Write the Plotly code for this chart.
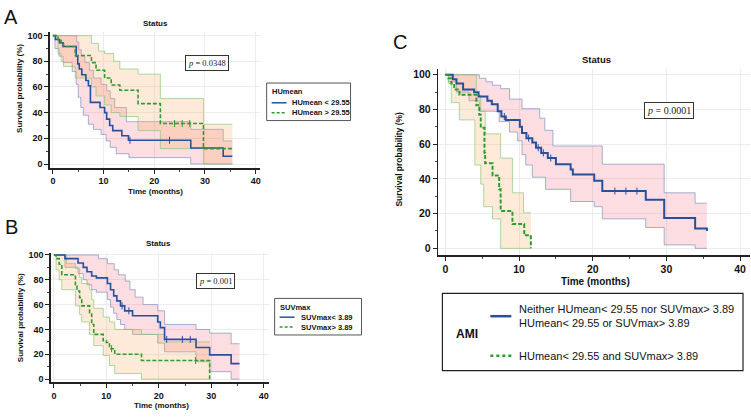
import numpy as np
import plotly.graph_objects as go

W, H = 751, 417

# ---------------- DATA ----------------
# Panel A: HUmean
a_blue_t = [0, 0.5, 1.3, 2.0, 4.6, 4.9, 5.2, 5.7, 6.5, 7.0, 7.4, 9.3, 10.2, 10.6, 11.2, 11.8, 13.6, 14.9, 27.2, 33.6, 35.4]
a_blue_s = [100, 97, 94.5, 91.5, 84, 78, 74, 69.5, 65, 61, 48, 44, 40, 35, 30, 26, 22, 18.5, 12.5, 6, 6]
a_green_t = [0, 1.0, 1.6, 2.1, 4.4, 7.6, 8.5, 10.2, 11.5, 13.2, 16.8, 21.2, 29.7, 35.4]
a_green_s = [100, 97, 94.5, 91.5, 84.5, 79, 73, 67, 61.5, 57.5, 47, 31.5, 12, 12]
a_blue_up_t = [0, 4.7, 5.1, 5.6, 6.3, 7.2, 8.0, 9.5, 10.6, 11.3, 12.2, 14.5, 27.2, 33.6, 35.4]
a_blue_up_s = [100, 95, 89, 84, 79, 73, 67, 62, 57, 51, 44, 33, 27, 18, 18]
a_blue_lo_t = [0, 0.4, 1.2, 2.0, 3.8, 4.6, 5.0, 5.5, 6.0, 7.0, 8.0, 9.5, 10.5, 11.3, 12.5, 15.0, 27.2, 35.4]
a_blue_lo_s = [100, 90, 84, 79, 72, 62, 52, 44, 38, 31, 27, 23, 18, 13, 8, 5, 0, 0]
a_green_up_t = [0, 7.6, 9.0, 10.2, 12.0, 13.2, 16.8, 21.2, 29.7, 35.4]
a_green_up_s = [100, 94, 88, 86, 80, 74, 70, 51, 31, 31]
a_green_lo_t = [0, 1.0, 1.6, 2.1, 4.4, 7.6, 8.5, 10.2, 11.5, 13.2, 16.8, 21.2, 29.7, 35.4]
a_green_lo_s = [100, 86, 80, 76, 67, 60, 53, 46, 40, 37, 26, 12, 0, 0]
a_blue_cens = [15.2, 23.0]
a_green_cens = [24.0, 25.5, 27.0]

# Panel B: SUVmax
b_blue_t = [0, 2.1, 4.6, 5.6, 6.3, 7.2, 8.1, 10.2, 10.8, 11.4, 12.0, 12.7, 13.5, 15.0, 19.8, 20.3, 21.1, 27.1, 29.7, 33.8, 35.4]
b_blue_s = [100, 97, 93.5, 90, 86.5, 83, 81.5, 77, 72, 67, 63, 59, 55, 51, 46, 41.5, 32, 25.5, 19.5, 12.5, 12.5]
b_green_t = [0, 0.4, 1.0, 1.5, 4.1, 4.4, 4.9, 5.3, 6.8, 7.2, 7.6, 9.4, 10.0, 10.6, 11.6, 16.7, 29.7]
b_green_s = [100, 97, 92.5, 84, 75, 71, 65.5, 59, 53.5, 44, 36, 31, 29.5, 24.5, 20, 15, 0]
b_blue_up_t = [0, 8.5, 10.2, 11.5, 12.3, 13.6, 14.5, 15.5, 17.0, 19.8, 21.1, 27.1, 29.7, 33.8, 35.4]
b_blue_up_s = [100, 97, 93, 88, 84, 79, 72, 66, 60, 55, 44, 40, 37, 28.5, 28.5]
b_blue_lo_t = [0, 2.1, 4.6, 5.6, 6.3, 7.2, 8.1, 10.2, 10.8, 11.4, 12.0, 12.7, 13.5, 15.0, 19.8, 21.1, 27.1, 29.7, 33.8, 35.4]
b_blue_lo_s = [100, 90, 85, 80, 76, 72, 70, 64, 58, 53, 48, 44, 40, 36, 29, 22, 14, 6, 0, 0]
b_green_up_t = [0, 2.4, 4.1, 4.9, 5.3, 6.8, 7.2, 7.6, 9.4, 10.6, 11.6, 16.7, 21.1, 29.7]
b_green_up_s = [100, 93, 89, 82, 77, 72, 64, 57, 50, 46, 40, 36, 30, 30]
b_green_lo_t = [0, 0.4, 1.0, 1.5, 4.1, 4.9, 5.3, 6.8, 7.6, 9.4, 10.6, 11.6, 16.7, 29.7]
b_green_lo_s = [100, 88, 80, 72, 59, 52, 46, 36, 27, 19, 11, 4.5, 0, 0]
b_blue_cens = [13.0, 14.3, 21.5, 24.5, 26.0]
b_green_cens = [11.0, 27.0]

# Panel C: AMI
c_blue_t = [0, 1.0, 1.5, 2.4, 3.9, 4.5, 5.7, 6.3, 7.1, 7.6, 8.2, 10.1, 10.4, 11.0, 11.8, 12.3, 13.0, 13.9, 15.0, 17.0, 17.3, 20.2, 21.3, 27.2, 29.7, 33.9, 35.5]
c_blue_s = [100, 97.5, 95, 91.5, 90, 87.5, 85, 83, 79, 76, 74, 70, 66.5, 63.5, 61, 58, 55, 52, 48.5, 45.5, 42.5, 39, 33, 28, 17.5, 11.5, 10]
c_green_t = [0, 0.4, 0.8, 1.2, 1.9, 4.2, 4.6, 4.8, 5.3, 5.4, 6.4, 7.3, 7.5, 9.1, 10.7, 11.6]
c_green_s = [100, 98, 95, 91.5, 88.5, 82.5, 77, 69.5, 55, 49, 42, 34, 21.5, 14, 7.5, 0]
c_blue_up_t = [0, 4.6, 5.5, 6.4, 7.5, 8.7, 10.4, 12.8, 13.5, 14.6, 21.3, 29.7, 33.9, 35.5]
c_blue_up_s = [100, 98, 96, 94, 92, 86, 80.5, 75, 68, 59, 48.5, 32, 26, 26]
c_blue_lo_t = [0, 0.4, 1.5, 3.2, 4.6, 7.3, 8.7, 9.8, 10.4, 10.9, 11.8, 13.6, 17.0, 20.2, 21.3, 27.2, 29.7, 33.9, 35.5]
c_blue_lo_s = [100, 96, 90, 85, 79, 73, 67, 62, 54, 48, 41, 34, 27, 24, 17, 12, 2, 0, 0]
c_green_up_t = [0, 4.2, 4.8, 5.4, 7.5, 9.1, 10.6, 11.6]
c_green_up_s = [100, 88, 79, 66, 52, 32, 20.5, 20.5]
c_green_lo_t = [0, 0.4, 0.8, 1.9, 4.0, 4.8, 5.2, 6.4, 7.5, 11.6]
c_green_lo_s = [100, 95, 84, 74, 48, 37, 24, 17, 0, 0]
c_blue_cens = [8.0, 11.3, 12.6, 13.3, 14.3, 23.0, 24.5, 26.0]
c_green_cens = []

x_ticks = [0, 10, 20, 30, 40]
y_ticks = [0, 20, 40, 60, 80, 100]

a_legend_title = "HUmean"
a_legend_labels = ["HUmean < 29.55", "HUmean > 29.55"]
b_legend_title = "SUVmax"
b_legend_labels = ["SUVmax< 3.89", "SUVmax> 3.89"]
c_legend_title = "AMI"
c_legend_labels = ["Neither HUmean< 29.55 nor SUVmax> 3.89", "HUmean< 29.55 or SUVmax> 3.89",
                   "HUmean< 29.55 and SUVmax> 3.89"]
p_values = ["0.0348", "0.001", "0.0001"]

# ---------------- STYLE ----------------
BLUE = "#24519f"
GREEN = "#2e9b2e"
PINK_FILL = "rgba(240,100,120,0.22)"
ORANGE_FILL = "rgba(250,170,100,0.25)"
BLUE_CI_LINE = "rgba(120,140,190,0.65)"
GREEN_CI_LINE = "rgba(130,200,110,0.65)"
SANS = "Liberation Sans, Arial, sans-serif"
SERIF = "Liberation Serif, Times New Roman, serif"


def X(p):
    return p / W


def Y(p):
    return 1 - p / H


def step_val(ts, ss, t):
    i = int(np.searchsorted(np.array(ts), t, side="right")) - 1
    return ss[max(i, 0)]


fig = go.Figure()


def add_band(ax, lo_t, lo_s, up_t, up_s, fill, linec):
    xa, ya = ("x" + ax, "y" + ax)
    fig.add_trace(go.Scatter(x=lo_t, y=lo_s, mode="lines", line=dict(color=linec, width=1, shape="hv"),
                             xaxis=xa, yaxis=ya, showlegend=False, hoverinfo="skip"))
    fig.add_trace(go.Scatter(x=up_t, y=up_s, mode="lines", line=dict(color=linec, width=1, shape="hv"),
                             fill="tonexty", fillcolor=fill,
                             xaxis=xa, yaxis=ya, showlegend=False, hoverinfo="skip"))


def add_curve(ax, ts, ss, color, dash, name, cens, width):
    xa, ya = ("x" + ax, "y" + ax)
    fig.add_trace(go.Scatter(x=ts, y=ss, mode="lines", name=name,
                             line=dict(color=color, width=width, shape="hv", dash=dash),
                             xaxis=xa, yaxis=ya, showlegend=False))
    if cens:
        fig.add_trace(go.Scatter(x=cens, y=[step_val(ts, ss, c) for c in cens], mode="markers",
                                 marker=dict(symbol="line-ns", size=5, line=dict(color=color, width=1)),
                                 xaxis=xa, yaxis=ya, showlegend=False, hoverinfo="skip"))


# Panel A
add_band("", a_blue_lo_t, a_blue_lo_s, a_blue_up_t, a_blue_up_s, PINK_FILL, BLUE_CI_LINE)
add_band("", a_green_lo_t, a_green_lo_s, a_green_up_t, a_green_up_s, ORANGE_FILL, GREEN_CI_LINE)
add_curve("", a_blue_t, a_blue_s, BLUE, "solid", a_legend_labels[0], a_blue_cens, 1.6)
add_curve("", a_green_t, a_green_s, GREEN, "4px,2px", a_legend_labels[1], a_green_cens, 1.6)
# Panel B
add_band("2", b_blue_lo_t, b_blue_lo_s, b_blue_up_t, b_blue_up_s, PINK_FILL, BLUE_CI_LINE)
add_band("2", b_green_lo_t, b_green_lo_s, b_green_up_t, b_green_up_s, ORANGE_FILL, GREEN_CI_LINE)
add_curve("2", b_blue_t, b_blue_s, BLUE, "solid", b_legend_labels[0], b_blue_cens, 1.6)
add_curve("2", b_green_t, b_green_s, GREEN, "4px,2px", b_legend_labels[1], b_green_cens, 1.6)
# Panel C
add_band("3", c_blue_lo_t, c_blue_lo_s, c_blue_up_t, c_blue_up_s, PINK_FILL, BLUE_CI_LINE)
add_band("3", c_green_lo_t, c_green_lo_s, c_green_up_t, c_green_up_s, ORANGE_FILL, GREEN_CI_LINE)
add_curve("3", c_blue_t, c_blue_s, BLUE, "solid", c_legend_labels[0], c_blue_cens, 2.0)
add_curve("3", c_green_t, c_green_s, GREEN, "4px,2px", c_legend_labels[2], c_green_cens, 2.0)


def axis(dom_px, rng, ticks, tickfs, minor_dt, horizontal, anchor):
    if horizontal:
        dom = [X(dom_px[0]), X(dom_px[1])]
    else:
        dom = [Y(dom_px[1]), Y(dom_px[0])]
    return dict(domain=dom, range=rng, tickvals=ticks, anchor=anchor,
                showline=True, linecolor="#222", linewidth=1.6, mirror=False,
                ticks="outside", ticklen=4, tickwidth=1, tickcolor="#222",
                minor=dict(ticks="outside", ticklen=2, tickwidth=1, tickcolor="#444", dtick=minor_dt, showgrid=False),
                showgrid=True, gridcolor="#ececec", gridwidth=1, zeroline=False,
                tickfont=dict(family=SANS, size=tickfs, color="#111", weight="bold"),
                fixedrange=True)


fig.update_layout(
    xaxis=axis([50, 260], [-0.59, 40.79], x_ticks, 9, 5, True, "y"),
    yaxis=axis([29, 167], [-3.1, 103.1], y_ticks, 9, 10, False, "x"),
    xaxis2=axis([51, 269], [-0.571, 40.95], x_ticks, 9, 5, True, "y2"),
    yaxis2=axis([252.7, 384], [-2.63, 101.83], y_ticks, 9, 10, False, "x2"),
    xaxis3=axis([439, 751], [-0.949, 41.35], x_ticks, 10.5, 5, True, "y3"),
    yaxis3=axis([66.7, 255], [-3.8, 103.4], y_ticks, 10.5, 10, False, "x3"),
)

ann = []
shapes = []


def text(x, y, s, size, family=SANS, weight="normal", xanchor="center", angle=0, color="#111"):
    ann.append(dict(x=X(x), y=Y(y), xref="paper", yref="paper", text=s, showarrow=False,
                    xanchor=xanchor, yanchor="middle", textangle=angle,
                    font=dict(family=family, size=size, color=color, weight=weight)))


# Panel letters
text(11, 14, "A", 20)
text(12, 227, "B", 20)
text(401, 39, "C", 20)
# Titles
text(156, 21, "Status", 8, weight="bold")
text(159, 243, "Status", 8, weight="bold")
text(597, 57, "Status", 9.5, weight="bold")
# Axis titles
text(156, 191, "Time (months)", 8, weight="bold")
text(162, 407, "Time (months)", 8, weight="bold")
text(596, 282, "Time (months)", 10, weight="bold")
text(20, 86, "Survival probability (%)", 8, weight="bold", angle=-90)
text(20, 318, "Survival probability (%)", 8, weight="bold", angle=-90)
text(400, 158, "Survival probability (%)", 8.5, weight="bold", angle=-90)

# p-value boxes
for (cx, cy, pv, fs) in [(207, 60.5, p_values[0], 8.5), (215.5, 281.5, p_values[1], 8.5), (669.5, 109, p_values[2], 10)]:
    ann.append(dict(x=X(cx), y=Y(cy), xref="paper", yref="paper", text="<i>p</i> = " + pv, showarrow=False,
                    xanchor="center", yanchor="middle", bordercolor="#333", borderwidth=1, borderpad=2,
                    bgcolor="white", font=dict(family=SERIF, size=fs, color="#222")))


def rect(x0, y0, x1, y1, color="#555", width=1):
    shapes.append(dict(type="rect", xref="paper", yref="paper", x0=X(x0), y0=Y(y1), x1=X(x1), y1=Y(y0),
                       line=dict(color=color, width=width), fillcolor="white", layer="above"))


def seg(x0, x1, y, color, dash, width):
    shapes.append(dict(type="line", xref="paper", yref="paper", x0=X(x0), x1=X(x1), y0=Y(y), y1=Y(y),
                       line=dict(color=color, width=width, dash=dash), layer="above"))


# Legend A
rect(267, 81, 351, 119)
text(270, 90, a_legend_title, 7.5, weight="bold", xanchor="left")
seg(272, 287, 101, BLUE, "solid", 1.5)
seg(272, 287, 111, GREEN, "3px,2px", 1.5)
text(290, 101, a_legend_labels[0], 7.5, weight="bold", xanchor="left")
text(290, 111, a_legend_labels[1], 7.5, weight="bold", xanchor="left")

# Legend B
rect(275, 299, 362, 336)
text(278, 308, b_legend_title, 7.5, weight="bold", xanchor="left")
seg(280, 295, 318, BLUE, "solid", 1.5)
seg(280, 295, 328, GREEN, "3px,2px", 1.5)
text(299, 318, b_legend_labels[0], 7.5, weight="bold", xanchor="left")
text(299, 328, b_legend_labels[1], 7.5, weight="bold", xanchor="left")

# Legend C
rect(443, 294, 744, 372, color="#222", width=1.2)
text(468, 335, c_legend_title, 12, weight="bold")
seg(491, 512, 317, BLUE, "solid", 2.5)
seg(491, 512, 357, GREEN, "dot", 2.5)
text(518, 310, c_legend_labels[0], 11, xanchor="left")
text(518, 324, c_legend_labels[1], 11, xanchor="left")
text(518, 357, c_legend_labels[2], 11, xanchor="left")

fig.update_layout(width=W, height=H, margin=dict(l=0, r=0, t=0, b=0), paper_bgcolor="white",
                  plot_bgcolor="white", showlegend=False, annotations=ann, shapes=shapes)

fig.write_html("out.html", config={"displayModeBar": False, "staticPlot": True},
               post_script="document.body.style.margin='0px';document.body.style.padding='0px';")
